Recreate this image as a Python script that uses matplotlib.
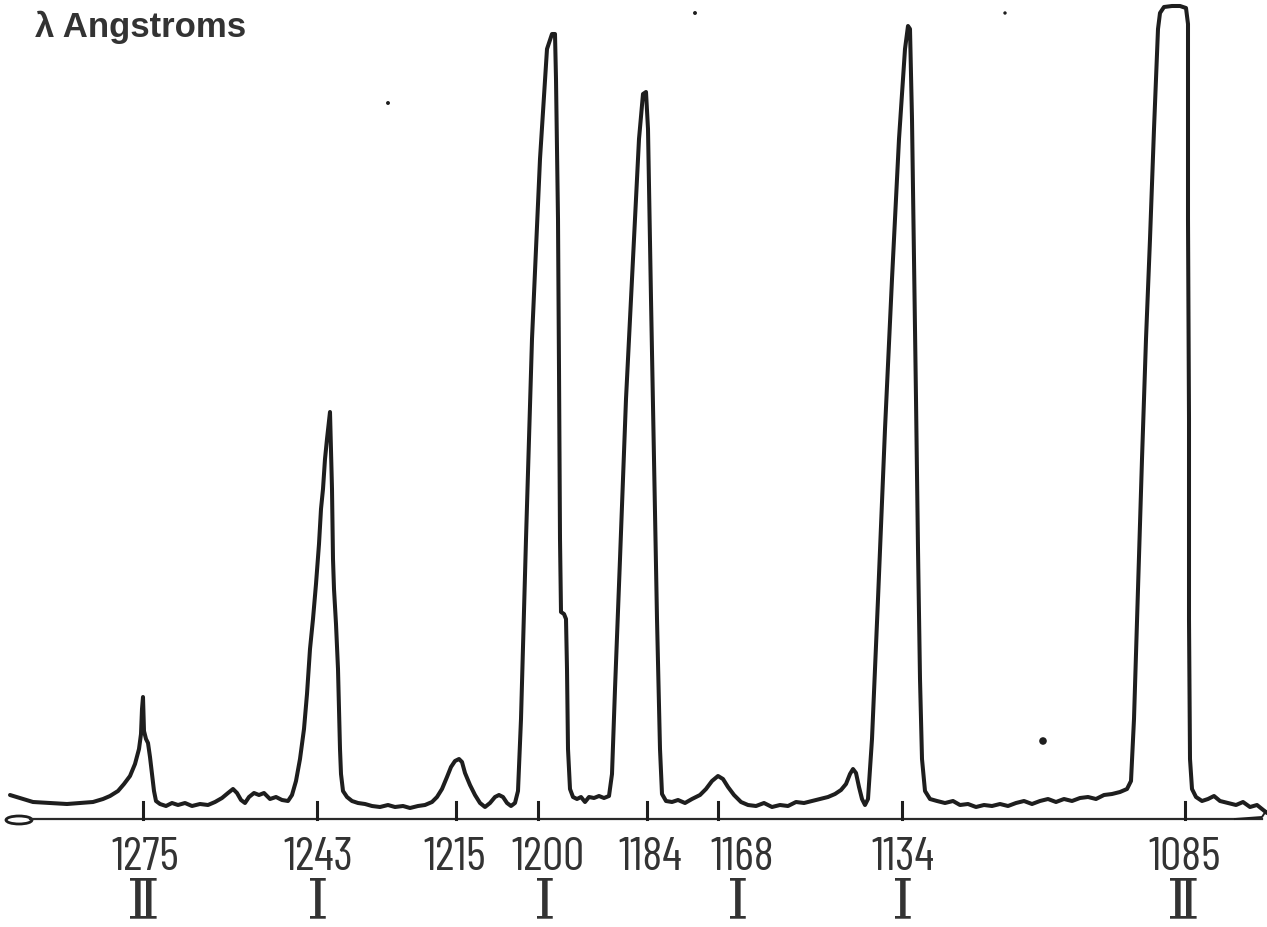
"""Spectrum trace with labelled emission lines (wavelength in Angstroms)."""
import matplotlib
matplotlib.use("Agg")
import matplotlib.pyplot as plt
from matplotlib.patches import Ellipse

# trace: horizontal position along the record, and pen deflection
trace_x = [10, 20, 33, 50, 67, 80, 93, 103, 110, 118, 124, 130, 135, 139, 141, 142, 143, 144, 146, 148,
           150, 152, 154, 156, 160, 166, 172, 178, 185, 192, 200, 208, 215, 222, 228, 233, 237, 241, 245,
           249, 254, 259, 264, 270, 276, 282, 288, 292, 296, 300, 304, 307, 310, 313, 316, 319, 321, 323,
           325, 327, 330, 331, 332, 333, 334, 336, 338, 339, 340, 341, 343, 347, 352, 358, 365, 372, 380,
           388, 395, 403, 410, 418, 425, 432, 437, 442, 447, 451, 455, 459, 462, 465, 470, 475, 480, 485,
           490, 495, 499, 503, 507, 511, 515, 518, 521, 526, 532, 540, 547, 552, 555, 556, 558, 559, 560,
           561, 564, 566, 567, 568, 570, 573, 577, 581, 585, 589, 594, 599, 604, 609, 612, 615, 620, 626,
           633, 639, 643, 646, 648, 651, 654, 657, 660, 662, 666, 672, 678, 685, 692, 700, 706, 712, 718,
           723, 728, 734, 741, 748, 756, 764, 772, 780, 788, 796, 804, 812, 820, 828, 835, 841, 846, 850,
           853, 856, 859, 862, 865, 868, 872, 878, 885, 892, 899, 905, 908, 910, 912, 914, 916, 918, 920,
           922, 925, 930, 937, 945, 953, 960, 968, 976, 984, 992, 1000, 1008, 1016, 1024, 1032, 1040, 1048,
           1056, 1064, 1072, 1080, 1088, 1096, 1104, 1112, 1120, 1127, 1131, 1134, 1138, 1142, 1146, 1150,
           1154, 1158, 1160, 1164, 1172, 1180, 1186, 1188, 1188, 1189, 1189, 1190, 1192, 1196, 1202, 1208,
           1214, 1220, 1228, 1236, 1243, 1250, 1257, 1262, 1267]
trace_y = [24, 21, 17, 16, 15, 16, 17, 20, 23, 28, 35, 43, 55, 70, 85, 110, 122, 88, 80, 76,
           62, 45, 28, 18, 15, 13, 16, 14, 16, 13, 15, 14, 17, 21, 26, 30, 26, 19, 16,
           22, 26, 24, 26, 20, 22, 19, 18, 24, 38, 60, 90, 125, 170, 200, 235, 275, 310, 330,
           360, 380, 407, 370, 330, 260, 230, 195, 150, 110, 70, 45, 28, 22, 18, 16, 15, 13, 12,
           14, 12, 13, 11, 13, 14, 17, 22, 30, 42, 52, 58, 60, 57, 46, 34, 24, 16, 12,
           16, 22, 24, 22, 16, 13, 16, 28, 100, 280, 480, 660, 770, 785, 785, 740, 600, 450, 280,
           207, 205, 200, 150, 70, 30, 22, 20, 22, 17, 22, 21, 23, 21, 23, 45, 130, 260, 420,
           560, 680, 725, 727, 690, 520, 360, 200, 70, 25, 18, 17, 19, 16, 20, 24, 30, 38, 43,
           40, 32, 24, 17, 14, 13, 16, 12, 14, 13, 17, 16, 18, 20, 22, 25, 29, 35, 45,
           50, 46, 32, 20, 14, 20, 80, 220, 390, 540, 680, 770, 793, 790, 700, 560, 420, 270, 140,
           60, 28, 20, 18, 16, 18, 14, 15, 12, 14, 13, 15, 13, 16, 18, 15, 18, 20,
           17, 20, 18, 21, 22, 20, 24, 25, 27, 30, 38, 100, 230, 360, 480, 580,
           690, 790, 806, 812, 813, 813, 811, 795, 600, 400, 200, 60, 30, 22, 18, 20,
           23, 18, 16, 14, 17, 12, 14, 10, 6]

# wavelength scale marks under the trace
tick_x = [143, 317, 456, 538, 647, 718, 902, 1185]
wavelengths = ["1275", "1243", "1215", "1200", "1184", "1168", "1134", "1085"]
wavelength_label_x = [145, 318, 455, 548, 650, 742, 903, 1185]
# ionisation stage (blank for 1215 and 1184)
stages = ["Ⅱ", "Ⅰ", "", "Ⅰ", "", "Ⅰ", "Ⅰ", "Ⅱ"]
stage_label_x = [143, 318, 455, 545, 650, 738, 903, 1183]

# specks on the scanned record
speck_x = [1043, 388, 695, 1005]
speck_y = [78, 716, 806, 806]
speck_size = [30, 8, 8, 6]

INK = "#1e1e1e"
LABEL_INK = "#333333"

fig = plt.figure(figsize=(12.67, 9.28), dpi=100)
ax = fig.add_axes([0, 0, 1, 1])
ax.set_xlim(0, 1267)
ax.set_ylim(-108, 820)
ax.axis("off")

ax.plot(trace_x, trace_y, color=INK, lw=2.9, solid_joinstyle="round", solid_capstyle="round")
ax.scatter(speck_x, speck_y, s=speck_size, color=INK, lw=0)

# scale line with its open arrow end on the left
ax.plot([30, 1262], [0, 0], color="#2a2a2a", lw=1.6)
ax.plot([1235, 1262, 1266], [0, 2, 8], color=INK, lw=1.4)
ax.add_patch(Ellipse((19, -1), 26, 8, fill=False, edgecolor=INK, lw=2))
for x in tick_x:
    ax.plot([x, x], [0, 17], color=INK, lw=2.2)

for x, lab in zip(wavelength_label_x, wavelengths):
    ax.text(x, -38, lab, ha="center", va="center", fontsize=34, color=LABEL_INK,
            family=["Barlow Condensed", "DejaVu Sans"])
for x, lab in zip(stage_label_x, stages):
    if lab:
        ax.text(x, -83, lab, ha="center", va="center", fontsize=40, color=LABEL_INK,
                family=["DejaVu Serif", "DejaVu Sans"])

ax.text(35, 793, "λ Angstroms", ha="left", va="center", fontsize=25, fontweight="bold",
        color=LABEL_INK, family=["Liberation Sans", "DejaVu Sans"])

fig.savefig("out.png", dpi=100)
